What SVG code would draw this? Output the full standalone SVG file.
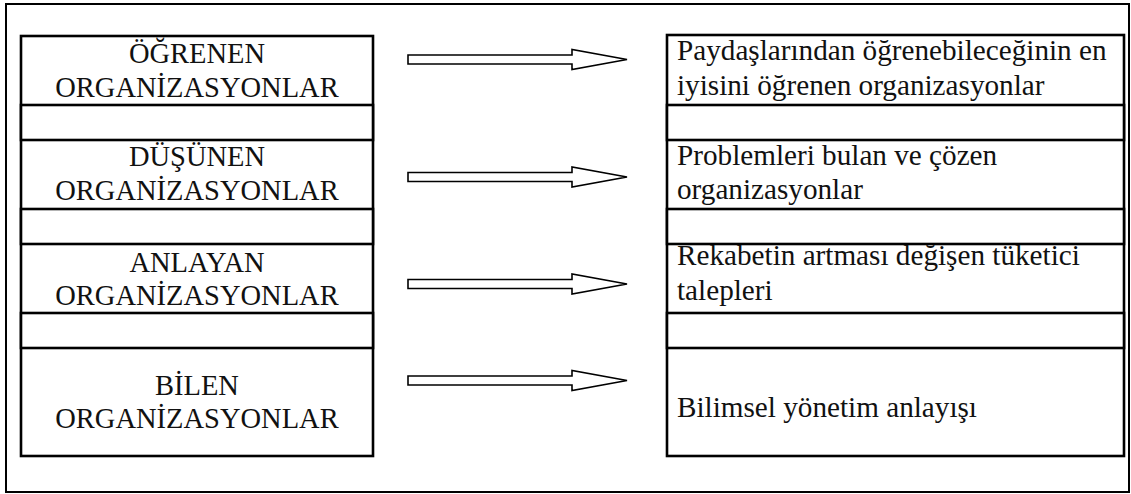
<svg xmlns="http://www.w3.org/2000/svg" width="1131" height="494" viewBox="0 0 1131 494">
  <style>
    .frame { fill: #fff; stroke: #000; stroke-width: 2; }
    .cell { fill: #fff; stroke: #000; stroke-width: 2.6; }
    .arrow { fill: #fff; stroke: #000; stroke-width: 1.6; stroke-linejoin: miter; }
    .lbl { font-family: "Liberation Serif", "Times New Roman", serif; font-size: 28.5px; fill: #111; }
    .c { text-anchor: middle; }
    .d { font-size: 29.2px; }
  </style>
  <defs>
    <!-- block arrow, tip at the origin -->
    <path id="blockArrow" d="M-219,-4.5 H-55 V-10 L0,0 L-55,10 V4.5 H-219 Z"/>
  </defs>

  <rect class="frame" x="6" y="4" width="1123" height="488"/>

  <!-- left column: organisation types -->
  <g id="left-table">
    <rect class="cell" x="21" y="36" width="352" height="420"/>
    <rect class="cell" x="21" y="105" width="352" height="35"/>
    <rect class="cell" x="21" y="209" width="352" height="35"/>
    <rect class="cell" x="21" y="313" width="352" height="35"/>
  </g>
  <g id="ogrenen">
    <text class="lbl c" x="197" y="63">ÖĞRENEN</text>
    <text class="lbl c" x="197" y="97">ORGANİZASYONLAR</text>
  </g>
  <g id="dusunen">
    <text class="lbl c" x="197" y="166">DÜŞÜNEN</text>
    <text class="lbl c" x="197" y="200">ORGANİZASYONLAR</text>
  </g>
  <g id="anlayan">
    <text class="lbl c" x="197" y="272">ANLAYAN</text>
    <text class="lbl c" x="197" y="305">ORGANİZASYONLAR</text>
  </g>
  <g id="bilen">
    <text class="lbl c" x="197" y="395">BİLEN</text>
    <text class="lbl c" x="197" y="428">ORGANİZASYONLAR</text>
  </g>

  <!-- right column: descriptions -->
  <g id="right-table">
    <rect class="cell" x="667" y="35" width="457" height="421"/>
    <rect class="cell" x="667" y="105" width="457" height="35"/>
    <rect class="cell" x="667" y="209" width="457" height="35"/>
    <rect class="cell" x="667" y="313" width="457" height="35"/>
  </g>
  <g id="desc-ogrenen">
    <text class="lbl d" x="677" y="60">Paydaşlarından öğrenebileceğinin en</text>
    <text class="lbl d" x="677" y="95">iyisini öğrenen organizasyonlar</text>
  </g>
  <g id="desc-dusunen">
    <text class="lbl d" x="677" y="165">Problemleri bulan ve çözen</text>
    <text class="lbl d" x="677" y="199">organizasyonlar</text>
  </g>
  <g id="desc-anlayan">
    <text class="lbl d" x="677" y="265">Rekabetin artması değişen tüketici</text>
    <text class="lbl d" x="677" y="300">talepleri</text>
  </g>
  <g id="desc-bilen">
    <text class="lbl d" x="677" y="417">Bilimsel yönetim anlayışı</text>
  </g>

  <!-- connectors -->
  <g id="connectors">
    <use href="#blockArrow" class="arrow" transform="translate(627,59.5)"/>
    <use href="#blockArrow" class="arrow" transform="translate(627,177)"/>
    <use href="#blockArrow" class="arrow" transform="translate(627,284)"/>
    <use href="#blockArrow" class="arrow" transform="translate(627,380.5)"/>
  </g>
</svg>
